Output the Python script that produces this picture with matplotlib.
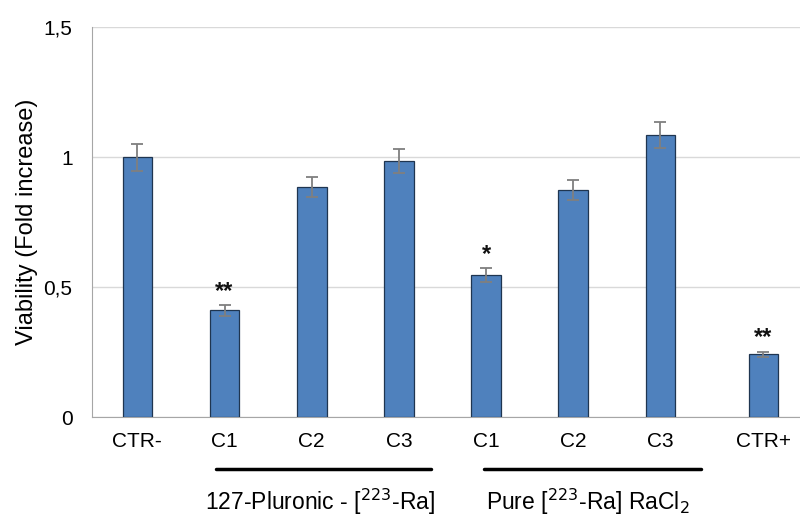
import numpy as np
import matplotlib
matplotlib.use("Agg")
import matplotlib.pyplot as plt
from matplotlib.ticker import FuncFormatter

plt.rcParams['font.family'] = ['Liberation Sans', 'DejaVu Sans']

labels = ["CTR-", "C1", "C2", "C3", "C1", "C2", "C3", "CTR+"]
viability = [1.0, 0.41, 0.885, 0.985, 0.546, 0.873, 1.085, 0.242]
errors = [0.052, 0.02, 0.04, 0.045, 0.028, 0.04, 0.05, 0.01]
stars = ["", "**", "", "", "*", "", "", "**"]
groups = ["127-Pluronic - [$^{223}$-Ra]", "Pure [$^{223}$-Ra] RaCl$_2$"]

x = np.arange(len(labels), dtype=float)
x[-1] += 0.18  # CTR+ sits a little further right in the original

fig = plt.figure(figsize=(8, 5.2), dpi=100)
ax = fig.add_axes([0.115, 0.198, 0.885, 0.75])

ax.bar(x, viability, width=0.34, color="#4F81BD", edgecolor="#1f3550",
       linewidth=0.9, zorder=3)
ax.errorbar(x, viability, yerr=errors, fmt="none", ecolor="#7f7f7f",
            elinewidth=1.3, capsize=4, capthick=1.3, zorder=4)
for xi, v, e, s in zip(x, viability, errors, stars):
    if s:
        ax.text(xi, v + e + 0.008, s, ha="center", va="bottom",
                fontsize=17, fontweight="bold", color="#111111")

ax.set_ylim(0, 1.5)
ax.set_xlim(-0.52, 7.6)
ax.set_yticks([0, 0.5, 1, 1.5])
ax.yaxis.set_major_formatter(FuncFormatter(lambda v, p: ("%g" % v).replace(".", ",")))
ax.set_xticks(x)
ax.set_xticklabels(labels, fontsize=15)
ax.tick_params(axis="x", length=0, pad=11)
ax.tick_params(axis="y", length=0, labelsize=15, pad=14)
ax.grid(axis="y", color="#d9d9d9", linewidth=1, zorder=0)
for sp in ["top", "right"]:
    ax.spines[sp].set_visible(False)
ax.spines["left"].set_color("#a6a6a6")
ax.spines["bottom"].set_color("#a6a6a6")
ax.set_ylabel("Viability (Fold increase)", fontsize=17, labelpad=4)

trans = ax.get_xaxis_transform()
ax.plot([0.9, 3.37], [-0.133, -0.133], color="black", lw=2.5,
        transform=trans, clip_on=False, solid_capstyle="round")
ax.plot([3.98, 6.46], [-0.133, -0.133], color="black", lw=2.5,
        transform=trans, clip_on=False, solid_capstyle="round")
ax.text(2.1, -0.238, groups[0], transform=trans, ha="center", va="baseline",
        fontsize=16.5)
ax.text(5.17, -0.238, groups[1], transform=trans, ha="center", va="baseline",
        fontsize=16.5)

fig.savefig("out.png", dpi=100)
